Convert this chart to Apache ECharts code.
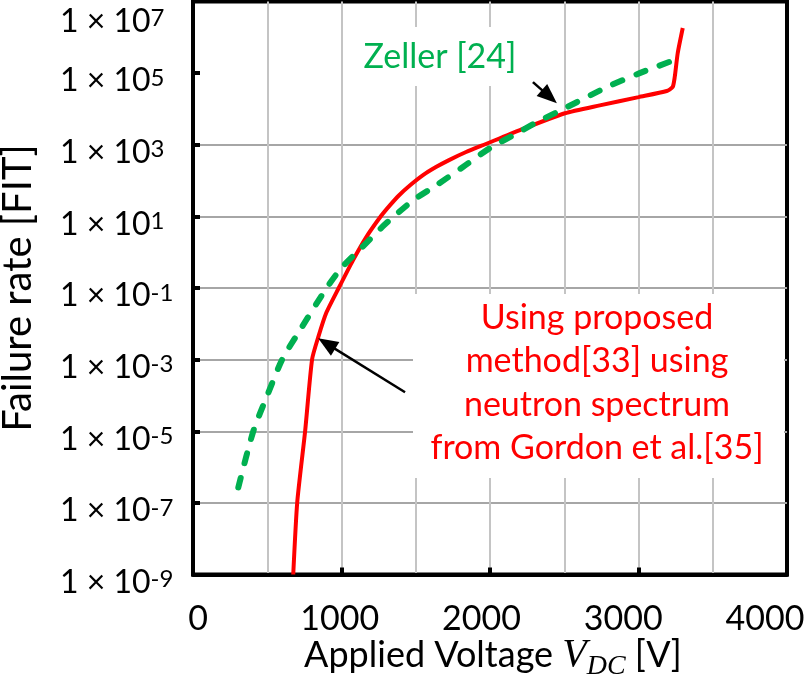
<!DOCTYPE html>
<html>
<head>
<meta charset="utf-8">
<script src="https://cdn.jsdelivr.net/npm/echarts@6/dist/echarts.min.js"></script>
<style>
  html, body { margin: 0; padding: 0; background: #fff; }
  #chart { width: 806px; height: 684px; }
</style>
</head>
<body>
<div id="chart"></div>
<script>
// Failure rate vs. applied DC voltage: proposed method and Zeller's model
const proposedVoltage = [675, 702, 755, 802, 843, 897, 984, 1078, 1166, 1266, 1327, 1388, 1462, 1549, 1636, 1724, 1839, 1972, 2202, 2505, 2739, 3001, 3190, 3230, 3244, 3264, 3298];
const proposedRate = [1e-9, 1.05e-7, 1e-5, 1.02e-3, 4.2e-3, 2.0e-2, 0.105, 0.60, 2.6, 10.2, 20.6, 39, 74, 142, 238, 373, 626, 1050, 2570, 7590, 12600, 21400, 31600, 40700, 77600, 3.6e5, 1.82e6];

const zellerVoltage = [305, 406, 506, 601, 708, 903, 1004, 1139, 1273, 1347, 1482, 1643, 1818, 2000, 2182, 2316, 2518, 2787, 3008, 3244];
const zellerRate = [2.7e-7, 1.0e-5, 1.15e-4, 1.02e-3, 5.5e-3, 0.105, 0.38, 1.38, 5.0, 9.5, 28, 76, 240, 810, 2090, 4270, 11200, 40700, 1.0e5, 2.34e5];

const xTickLabels = [0, 1000, 2000, 3000, 4000];
const yTickValues = [1e-9, 1e-7, 1e-5, 1e-3, 1e-1, 1e1, 1e3, 1e5, 1e7];

// annotation arrows, in data coordinates [voltage, rate]
const proposedArrow = [[1428, 1.23e-4], [900, 2.8e-3]];
const zellerArrow = [[2289, 5.6e4], [2400, 2.2e4]];

const proposedText = ['Using proposed', 'method[33] using', 'neutron spectrum', 'from Gordon et al.[35]'];
const zellerText = 'Zeller [24]';

const RED = '#ff0000';
const GREEN = '#00b050';
const FONT = 'Lato';

const chart = echarts.init(document.getElementById('chart'), null, { renderer: 'canvas' });

function pairs(xs, ys) { return xs.map((x, i) => [x, ys[i]]); }

function arrowMark(seg) {
  return {
    silent: true,
    symbol: ['none', 'triangle'],
    symbolSize: [16, 20],
    label: { show: false },
    lineStyle: { color: '#000', width: 2.5, type: 'solid' },
    itemStyle: { color: '#000' },
    emphasis: { disabled: true },
    data: [[{ coord: seg[0] }, { coord: seg[1] }]]
  };
}

const option = {
  animation: false,
  backgroundColor: '#fff',
  textStyle: { fontFamily: FONT, color: '#000' },
  grid: [
    { left: 193, right: 19, top: 1.5, bottom: 109.5, containLabel: false, outerBoundsMode: 'none',
      show: true, borderColor: '#000', borderWidth: 4, backgroundColor: 'transparent' },
    { left: 198, right: 41, top: 1.5, bottom: 109.5, containLabel: false, outerBoundsMode: 'none', show: false }
  ],
  xAxis: [
    {
      type: 'value', gridIndex: 0, min: 0, max: 4000, interval: 1000,
      axisLine: { show: true, onZero: false, lineStyle: { color: '#000', width: 4 } },
      axisTick: { show: true, inside: true, length: 7, lineStyle: { color: '#000', width: 4 } },
      axisLabel: { show: false },
      splitLine: { show: true, showMinLine: false, showMaxLine: false, lineStyle: { color: '#c4c4c4', width: 2 } },
      minorTick: { show: false, splitNumber: 2 },
      minorSplitLine: { show: true, lineStyle: { color: '#c4c4c4', width: 2 } },
      name: '{n|Applied Voltage }{v|V}{d|DC}{n| [V]}',
      nameLocation: 'middle',
      nameGap: 56,
      nameTextStyle: {
        padding: [0, 0, 0, 6],
        rich: {
          n: { fontFamily: FONT, fontSize: 36, color: '#000' },
          v: { fontFamily: 'Liberation Serif', fontStyle: 'italic', fontSize: 40, color: '#000' },
          d: { fontFamily: 'Liberation Serif', fontStyle: 'italic', fontSize: 28, color: '#000', padding: [22, 0, 0, 0] }
        }
      }
    },
    {
      type: 'value', gridIndex: 1, min: xTickLabels[0], max: xTickLabels[xTickLabels.length - 1], interval: 1000,
      axisLine: { show: false }, axisTick: { show: false }, splitLine: { show: false },
      axisLabel: { show: true, margin: 28, fontSize: 34, fontFamily: FONT, color: '#000',
        formatter: function (v) { return String(v); } }
    }
  ],
  yAxis: [
    {
      type: 'log', logBase: 10, gridIndex: 0, min: yTickValues[0], max: yTickValues[yTickValues.length - 1],
      axisLine: { show: true, onZero: false, lineStyle: { color: '#000', width: 4 } },
      axisTick: { show: true, inside: true, length: 7, lineStyle: { color: '#000', width: 4 },
        customValues: yTickValues.slice(0, -1) },
      axisLabel: {
        show: true, customValues: yTickValues, align: 'left', margin: 133,
        formatter: function (v) {
          const e = Math.round(Math.log10(v));
          const k = e === 7 ? 't' : 'n';
          return '{' + k + 'b|1 × 10}{' + k + 's|' + e + '}';
        },
        rich: {
          nb: { fontFamily: FONT, fontSize: 32, color: '#000', padding: [16, 0, 0, 0] },
          ns: { fontFamily: FONT, fontSize: 24, color: '#000', padding: [16, 0, 6, 0] },
          tb: { fontFamily: FONT, fontSize: 32, color: '#000', padding: [40, 0, 0, 0] },
          ts: { fontFamily: FONT, fontSize: 24, color: '#000', padding: [40, 0, 6, 0] }
        }
      },
      splitLine: { show: true, showMinLine: false, showMaxLine: false, lineStyle: { color: '#a6a6a6', width: 2 } },
      name: 'Failure rate [FIT]',
      nameLocation: 'middle',
      nameGap: 155,
      nameTextStyle: { fontFamily: FONT, fontSize: 40, color: '#000' }
    },
    { type: 'value', gridIndex: 1, show: false }
  ],
  series: [
    {
      name: 'Zeller',
      type: 'line',
      xAxisIndex: 0, yAxisIndex: 0,
      data: pairs(zellerVoltage, zellerRate),
      showSymbol: false,
      smooth: 0.25,
      lineStyle: { color: GREEN, width: 6, type: [10, 15], cap: 'round' },
      itemStyle: { color: GREEN },
      markLine: arrowMark(zellerArrow),
      z: 3
    },
    {
      name: 'Proposed',
      type: 'line',
      xAxisIndex: 0, yAxisIndex: 0,
      data: pairs(proposedVoltage, proposedRate),
      showSymbol: false,
      smooth: 0.2,
      lineStyle: { color: RED, width: 4 },
      itemStyle: { color: RED },
      markLine: arrowMark(proposedArrow),
      z: 2
    }
  ],
  graphic: [
    { type: 'rect', z: 1, shape: { x: 348, y: 27, width: 185, height: 59 }, style: { fill: '#fff' } },
    { type: 'text', z: 10, x: 440, y: 57,
      style: { text: zellerText, fill: GREEN, fontFamily: FONT, fontSize: 34, align: 'center', verticalAlign: 'middle' } },
    { type: 'rect', z: 1, shape: { x: 413, y: 294, width: 371, height: 184 }, style: { fill: '#fff' } },
    { type: 'text', z: 10, x: 597, y: 383,
      style: { text: proposedText.join('\n'), fill: RED, fontFamily: FONT, fontSize: 34, lineHeight: 43.5, align: 'center', verticalAlign: 'middle' } }
  ]
};

chart.setOption(option);
</script>
</body>
</html>
